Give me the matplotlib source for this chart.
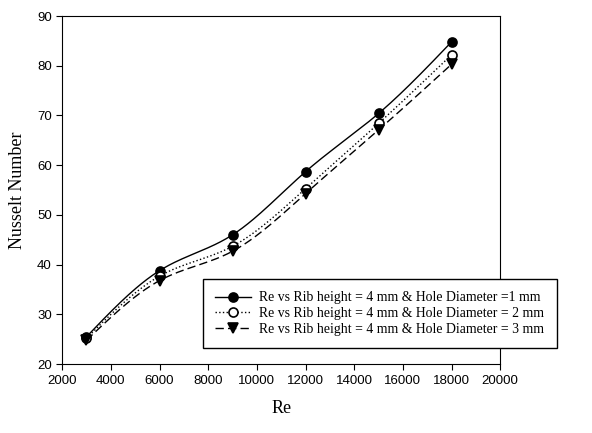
import numpy as np
import matplotlib
matplotlib.use("Agg")
import matplotlib.pyplot as plt

re_vals = [3000, 6000, 9000, 12000, 15000, 18000]
nu_d1 = [25.5, 38.8, 46.0, 58.7, 70.4, 84.8]
nu_d2 = [25.2, 37.7, 43.7, 55.3, 68.4, 82.2]
nu_d3 = [24.8, 36.8, 42.7, 54.3, 67.1, 80.3]
labels = ["Re vs Rib height = 4 mm & Hole Diameter =1 mm",
          "Re vs Rib height = 4 mm & Hole Diameter = 2 mm",
          "Re vs Rib height = 4 mm & Hole Diameter = 3 mm"]


def spline(x, y, n=200):
    # natural cubic spline, only for drawing the smooth curve
    x = np.asarray(x, float)
    y = np.asarray(y, float)
    k = len(x)
    h = np.diff(x)
    A = np.zeros((k, k))
    b = np.zeros(k)
    A[0, 0] = A[-1, -1] = 1
    for i in range(1, k - 1):
        A[i, i - 1] = h[i - 1]
        A[i, i] = 2 * (h[i - 1] + h[i])
        A[i, i + 1] = h[i]
        b[i] = 6 * ((y[i + 1] - y[i]) / h[i] - (y[i] - y[i - 1]) / h[i - 1])
    M = np.linalg.solve(A, b)
    xs = np.linspace(x[0], x[-1], n)
    idx = np.clip(np.searchsorted(x, xs) - 1, 0, k - 2)
    x0, x1 = x[idx], x[idx + 1]
    hh = x1 - x0
    t0 = x1 - xs
    t1 = xs - x0
    ys = (M[idx] * t0 ** 3 + M[idx + 1] * t1 ** 3) / (6 * hh) \
        + (y[idx] / hh - M[idx] * hh / 6) * t0 + (y[idx + 1] / hh - M[idx + 1] * hh / 6) * t1
    return xs, ys


fig = plt.figure(figsize=(5.92, 4.33), dpi=100)
ax = fig.add_axes([0.105, 0.159, 0.74, 0.804])

styles = [("-", "o", "black"), (":", "o", "white"), ((0, (6, 3)), "v", "black")]
handles = []
for ys, lab, (ls, mk, fc) in zip([nu_d1, nu_d2, nu_d3], labels, styles):
    sx, sy = spline(re_vals, ys)
    ax.plot(sx, sy, color="black", ls=ls, lw=1)
    ax.plot(re_vals, ys, ls="none", marker=mk, ms=6.5, mfc=fc, mec="black", mew=1.2)
    h, = ax.plot([], [], color="black", ls=ls, lw=1, marker=mk, ms=6.5, mfc=fc, mec="black", mew=1.2)
    handles.append(h)

ax.set_xlim(2000, 20000)
ax.set_ylim(20, 90)
ax.set_xticks(np.arange(2000, 20001, 2000))
ax.set_yticks(np.arange(20, 91, 10))
ax.tick_params(direction="out", length=4, top=False, right=False, labelsize=9.5)
for lab in ax.get_xticklabels() + ax.get_yticklabels():
    lab.set_fontfamily("Liberation Sans")
ax.set_xlabel("Re", fontsize=13, family="Liberation Serif", labelpad=10)
ax.set_ylabel("Nusselt Number", fontsize=13, family="Liberation Serif", labelpad=8)

leg = fig.legend(handles=handles, labels=labels, loc="upper left",
                 bbox_to_anchor=(203 / 592, 1 - 279 / 433), fancybox=False,
                 edgecolor="black", framealpha=1, handlelength=2.6,
                 handletextpad=0.6, borderaxespad=0,
                 prop={"family": "Liberation Serif", "size": 9.9},
                 borderpad=0.9, labelspacing=0.2)
leg.get_frame().set_linewidth(1)

fig.savefig("out.png", dpi=100)
